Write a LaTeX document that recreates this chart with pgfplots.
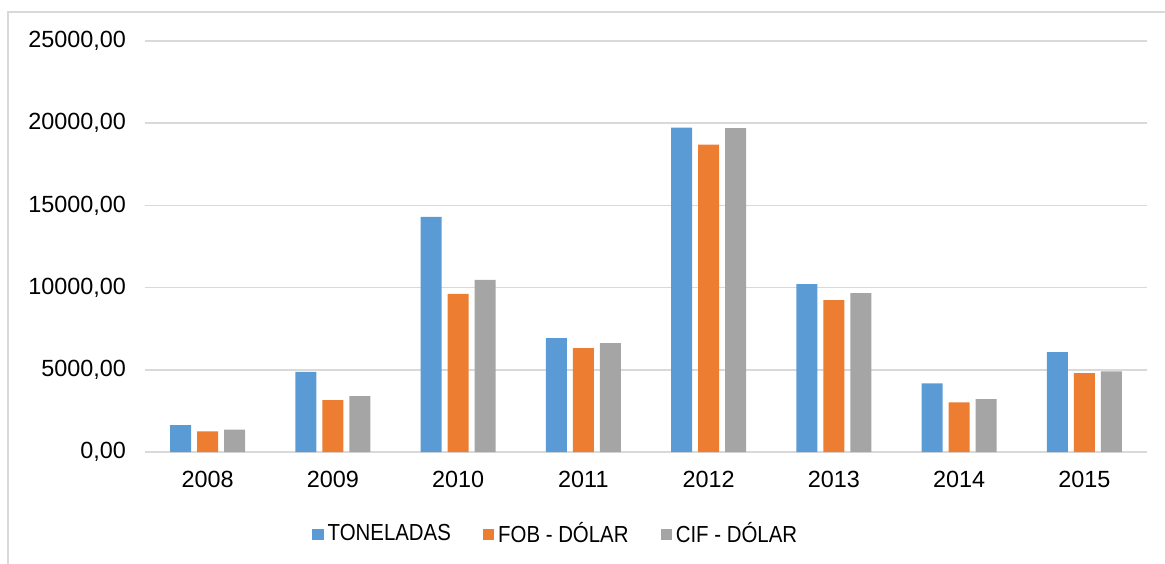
\documentclass[border=0pt]{standalone}
\usepackage{pgfplots}
\pgfplotsset{compat=1.18}
\usepackage{fontspec}
\setmainfont{Liberation Sans}
\newfontfamily\legfont[FakeStretch=0.88]{Liberation Sans}
\definecolor{cblue}{HTML}{5B9BD5}
\definecolor{corange}{HTML}{ED7D31}
\definecolor{cgray}{HTML}{A5A5A5}
\begin{document}
\begin{tikzpicture}[x=1pt,y=1pt]
\begin{axis}[
    at={(0,0)}, anchor=south west,
    scale only axis, width=501pt, height=205.5pt,
    ybar=3pt, bar width=10.5pt,
    xmin=-0.5, xmax=7.5, ymin=0, ymax=25000,
    xtick={0,...,7},
    xticklabels={2008,2009,2010,2011,2012,2013,2014,2015},
    ytick={0,5000,...,25000},
    yticklabel={\pgfmathprintnumber[fixed,fixed zerofill,precision=2,use comma,1000 sep={}]{\tick}},
    scaled y ticks=false,
    /pgf/number format/assume math mode=true,
    ymajorgrids, grid style={draw=gray!30, line width=0.8pt},
    axis line style={draw=none},
    major tick length=0pt,
    tick label style={font=\fontsize{11.7}{13}\selectfont},
    yticklabel style={xshift=-6pt},
    xticklabel style={yshift=-6pt},
    legend style={draw=none, at={(0.411,-0.2)}, anchor=center,
        font=\legfont\fontsize{11.6}{13}\selectfont, /tikz/every even column/.append style={column sep=14pt}},
    legend columns=3,
    legend image code/.code={\fill[#1] (-1.5pt,-2.8pt) rectangle (4.1pt,2.8pt);},
]
\addplot[fill=cblue, draw=none] coordinates {(0,1640) (1,4880) (2,14300) (3,6930) (4,19730) (5,10210) (6,4170) (7,6080)};
\addplot[fill=corange, draw=none] coordinates {(0,1260) (1,3160) (2,9620) (3,6320) (4,18690) (5,9240) (6,3020) (7,4800)};
\addplot[fill=cgray, draw=none] coordinates {(0,1360) (1,3400) (2,10470) (3,6620) (4,19700) (5,9660) (6,3220) (7,4900)};
\legend{TONELADAS, FOB - DÓLAR, CIF - DÓLAR}
\end{axis}
\draw[gray!30, line width=0.8pt] (-68.5,-70) -- (-68.5,220) -- (530,220);
\pgfresetboundingbox
\path[use as bounding box] (-72.5,-55.5) rectangle (510,226);
\end{tikzpicture}
\end{document}
